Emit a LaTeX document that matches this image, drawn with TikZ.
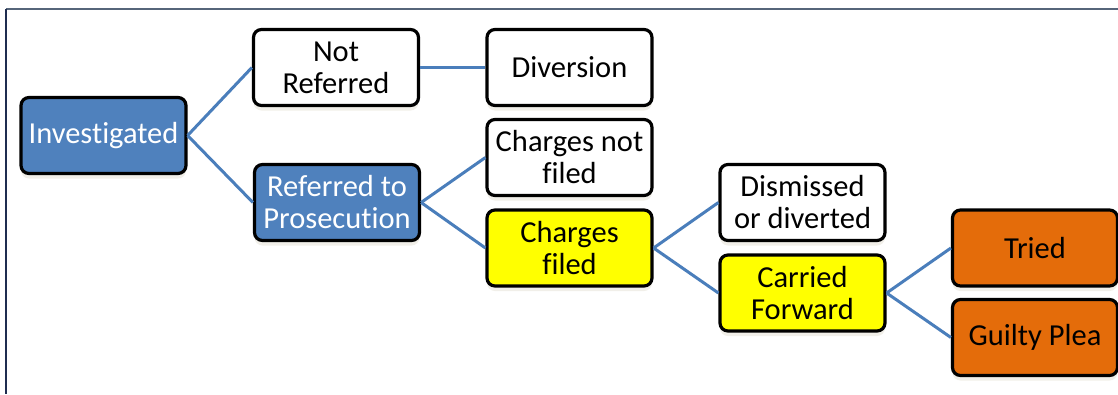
\documentclass[tikz,border=0pt]{standalone}
\usepackage{fontspec}
\setmainfont[Ligatures={NoCommon}]{Carlito}
\usetikzlibrary{shadows}
\definecolor{boxblue}{HTML}{4F81BD}
\definecolor{boxyellow}{HTML}{FFFF00}
\definecolor{boxorange}{HTML}{E46C0A}
\definecolor{linkblue}{HTML}{4A7EBB}
\definecolor{frametop}{HTML}{56657A}
\definecolor{frameleft}{HTML}{1F2D50}
\definecolor{shadowcol}{HTML}{D8D4C0}
\begin{document}
\begin{tikzpicture}[x=1pt,y=-1pt,
  box/.style={draw=black, line width=3.2pt, rounded corners=8pt,
    minimum width=165pt, minimum height=76pt, inner sep=2pt, align=center,
    font=\fontsize{30.5}{32}\selectfont,
    drop shadow={shadow xshift=0pt, shadow yshift=-5pt, opacity=0.35, fill=shadowcol}},
  bluebox/.style={box, fill=boxblue, text=white},
  whitebox/.style={box, fill=white, text=black},
  yellowbox/.style={box, fill=boxyellow, text=black},
  orangebox/.style={box, fill=boxorange, text=black},
  link/.style={draw=linkblue, line width=3pt}]
\useasboundingbox (0,0) rectangle (1118,394);
\fill[white] (0,0) rectangle (1118,394);
% frame
\draw[frametop, line width=2pt] (6,9) -- (1118,9);
\draw[frameleft, line width=2pt] (6,9) -- (6,394);

\node[bluebox] (inv) at (103.5,135.5) {Investigated};
\node[whitebox] (notref) at (336,67.5) {Not\\Referred};
\node[whitebox] (div) at (569.5,67.5) {Diversion};
\node[bluebox] (ref) at (337,202.5) {Referred to\\Prosecution};
\node[whitebox] (cnf) at (569.5,157.5) {Charges not\\filed};
\node[yellowbox] (cf) at (569.5,248) {Charges\\filed};
\node[whitebox] (dd) at (802.5,202.5) {Dismissed\\or diverted};
\node[yellowbox] (carf) at (802.5,293) {Carried\\Forward};
\node[orangebox] (tried) at (1035,248) {Tried};
\node[orangebox] (gp) at (1035,337.5) {Guilty Plea};

\draw[link] (inv.east) -- (notref.west);
\draw[link] (inv.east) -- (ref.west);
\draw[link] (notref.east) -- (div.west);
\draw[link] (ref.east) -- (cnf.west);
\draw[link] (ref.east) -- (cf.west);
\draw[link] (cf.east) -- (dd.west);
\draw[link] (cf.east) -- (carf.west);
\draw[link] (carf.east) -- (tried.west);
\draw[link] (carf.east) -- (gp.west);
\end{tikzpicture}
\end{document}
